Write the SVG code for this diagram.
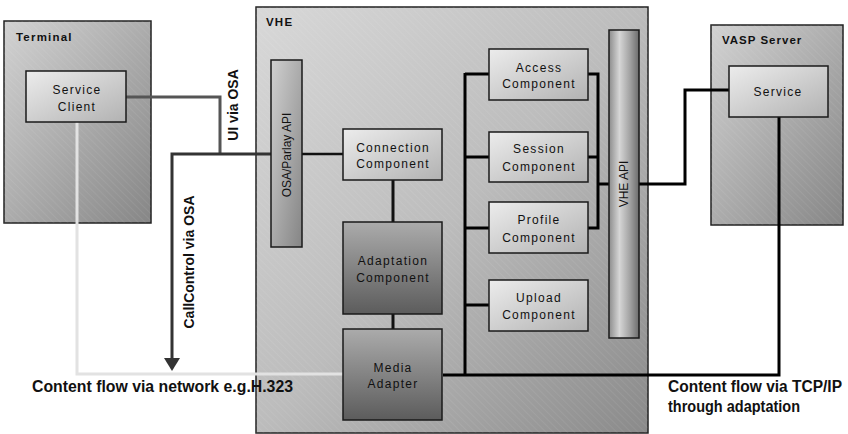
<svg xmlns="http://www.w3.org/2000/svg" width="848" height="434" viewBox="0 0 848 434">
<style>
  .cont{stroke:#222;stroke-width:1.5}
  .box{stroke:#1a1a1a;stroke-width:1.5}
  .t{font-family:"Liberation Sans",Arial,sans-serif;fill:#111}
  .lbl{font-size:11.5px;font-weight:bold;letter-spacing:1.2px}
  .comp{font-size:12px;letter-spacing:1.3px;text-anchor:middle}
  .rot{font-size:12px;text-anchor:middle;dominant-baseline:central}
  .big{font-size:14px;font-weight:bold;text-anchor:middle;dominant-baseline:central}
  .flow{font-size:16px;font-weight:bold}
  .bus{fill:none;stroke:#000;stroke-width:3}
</style>
<defs>
  <linearGradient id="gCont" x1="0" y1="0" x2="1" y2="1">
    <stop offset="0" stop-color="#d2d2d2"/><stop offset="1" stop-color="#868686"/>
  </linearGradient>
  <linearGradient id="gVhe" x1="0" y1="0" x2="1" y2="1">
    <stop offset="0" stop-color="#d8d8d8"/><stop offset="0.5" stop-color="#bcbcbc"/><stop offset="1" stop-color="#8a8a8a"/>
  </linearGradient>
  <linearGradient id="gLight" x1="0" y1="0" x2="1" y2="1">
    <stop offset="0" stop-color="#ececec"/><stop offset="1" stop-color="#b2b2b2"/>
  </linearGradient>
  <linearGradient id="gDark" x1="0" y1="0" x2="0" y2="1">
    <stop offset="0" stop-color="#ababab"/><stop offset="1" stop-color="#5c5c5c"/>
  </linearGradient>
  <linearGradient id="gOsa" x1="0" y1="0" x2="1" y2="1">
    <stop offset="0" stop-color="#d0d0d0"/><stop offset="1" stop-color="#858585"/>
  </linearGradient>
  <linearGradient id="gApi" x1="0" y1="0" x2="1" y2="0">
    <stop offset="0" stop-color="#8c8c8c"/><stop offset="0.35" stop-color="#d6d6d6"/><stop offset="0.7" stop-color="#a2a2a2"/><stop offset="1" stop-color="#6c6c6c"/>
  </linearGradient>
  <pattern id="hatch" width="5" height="5" patternUnits="userSpaceOnUse" patternTransform="rotate(-45)">
    <line x1="0" y1="0" x2="0" y2="5" stroke="#ffffff" stroke-opacity="0.12" stroke-width="1"/>
  </pattern>
</defs>

<!-- containers -->
<g id="terminal">
  <rect class="cont" x="4" y="21" width="147" height="202" fill="url(#gCont)"/>
  <rect x="4" y="21" width="147" height="202" fill="url(#hatch)"/>
  <text class="t lbl" x="16" y="41">Terminal</text>
</g>
<g id="vhe">
  <rect class="cont" x="256" y="7" width="392" height="426" fill="url(#gVhe)"/>
  <rect x="256" y="7" width="392" height="426" fill="url(#hatch)"/>
  <text class="t lbl" x="266" y="26">VHE</text>
</g>
<g id="vasp-server">
  <rect class="cont" x="711" y="25" width="132" height="200" fill="url(#gCont)"/>
  <rect x="711" y="25" width="132" height="200" fill="url(#hatch)"/>
  <text class="t lbl" x="722" y="44" style="letter-spacing:1px">VASP Server</text>
</g>

<!-- connectors -->
<g id="connectors">
  <polyline points="126,97 220,97 220,154" fill="none" stroke="#555" stroke-width="3"/>
  <polyline points="77,122 77,374 343,374" fill="none" stroke="#e2e2e2" stroke-width="3"/>
  <polyline points="271,154 172,154 172,359" fill="none" stroke="#333" stroke-width="3"/>
  <polygon points="164,358 180,358 172,371" fill="#333"/>
  <line x1="302" y1="154" x2="343" y2="154" stroke="#111" stroke-width="2.5"/>
  <line x1="393" y1="180" x2="393" y2="222" stroke="#111" stroke-width="3"/>
  <line x1="393" y1="314" x2="393" y2="329" stroke="#111" stroke-width="3"/>
  <line class="bus" x1="465" y1="73" x2="465" y2="376"/>
  <polyline class="bus" points="443,375 779,375 779,117"/>
  <line class="bus" x1="465" y1="74" x2="489" y2="74"/>
  <line class="bus" x1="465" y1="157" x2="489" y2="157"/>
  <line class="bus" x1="465" y1="228" x2="489" y2="228"/>
  <line class="bus" x1="465" y1="305" x2="489" y2="305"/>
  <polyline class="bus" points="588,74 598,74 598,228 588,228"/>
  <line class="bus" x1="588" y1="157" x2="598" y2="157"/>
  <line class="bus" x1="598" y1="184" x2="609" y2="184"/>
  <polyline class="bus" points="639,184 685,184 685,90 729,90"/>
</g>

<!-- nodes -->
<g id="service-client">
  <rect class="box" x="26" y="71" width="100" height="51" fill="url(#gLight)"/>
  <text class="t comp" x="77" y="94">Service</text>
  <text class="t comp" x="77" y="111">Client</text>
</g>
<g id="osa-parlay-api">
  <rect class="box" x="271" y="60" width="31" height="187" fill="url(#gOsa)"/>
  <text class="t rot" transform="translate(287,155) rotate(-90)">OSA/Parlay API</text>
</g>
<g id="connection-component">
  <rect class="box" x="343" y="129" width="99" height="51" fill="url(#gLight)"/>
  <text class="t comp" x="393" y="152">Connection</text>
  <text class="t comp" x="393" y="168">Component</text>
</g>
<g id="adaptation-component">
  <rect class="box" x="343" y="222" width="99" height="92" fill="url(#gDark)"/>
  <text class="t comp" x="393" y="265">Adaptation</text>
  <text class="t comp" x="393" y="282">Component</text>
</g>
<g id="media-adapter">
  <rect class="box" x="343" y="329" width="99" height="91" fill="url(#gDark)"/>
  <text class="t comp" x="393" y="372">Media</text>
  <text class="t comp" x="393" y="388">Adapter</text>
</g>
<g id="access-component">
  <rect class="box" x="489" y="49" width="99" height="51" fill="url(#gLight)"/>
  <text class="t comp" x="539" y="72">Access</text>
  <text class="t comp" x="539" y="88">Component</text>
</g>
<g id="session-component">
  <rect class="box" x="489" y="132" width="99" height="50" fill="url(#gLight)"/>
  <text class="t comp" x="539" y="153">Session</text>
  <text class="t comp" x="539" y="171">Component</text>
</g>
<g id="profile-component">
  <rect class="box" x="489" y="202" width="99" height="51" fill="url(#gLight)"/>
  <text class="t comp" x="539" y="224">Profile</text>
  <text class="t comp" x="539" y="242">Component</text>
</g>
<g id="upload-component">
  <rect class="box" x="489" y="280" width="99" height="51" fill="url(#gLight)"/>
  <text class="t comp" x="539" y="302">Upload</text>
  <text class="t comp" x="539" y="319">Component</text>
</g>
<g id="vhe-api">
  <rect class="box" x="609" y="30" width="30" height="308" fill="url(#gApi)"/>
  <text class="t rot" transform="translate(624,184) rotate(-90)">VHE API</text>
</g>
<g id="service">
  <rect class="box" x="729" y="66" width="99" height="51" fill="url(#gLight)"/>
  <text class="t comp" x="778" y="96">Service</text>
</g>

<!-- labels -->
<g id="labels">
  <text class="t big" transform="translate(233,105) rotate(-90)">UI via OSA</text>
  <text class="t big" transform="translate(189,262) rotate(-90)">CallControl via OSA</text>
  <text class="t flow" x="32" y="392" textLength="261" lengthAdjust="spacingAndGlyphs">Content flow via network e.g.H.323</text>
  <text class="t flow" x="668" y="392" textLength="174" lengthAdjust="spacingAndGlyphs">Content flow via TCP/IP</text>
  <text class="t flow" x="668" y="412" textLength="132" lengthAdjust="spacingAndGlyphs">through adaptation</text>
</g>
</svg>
